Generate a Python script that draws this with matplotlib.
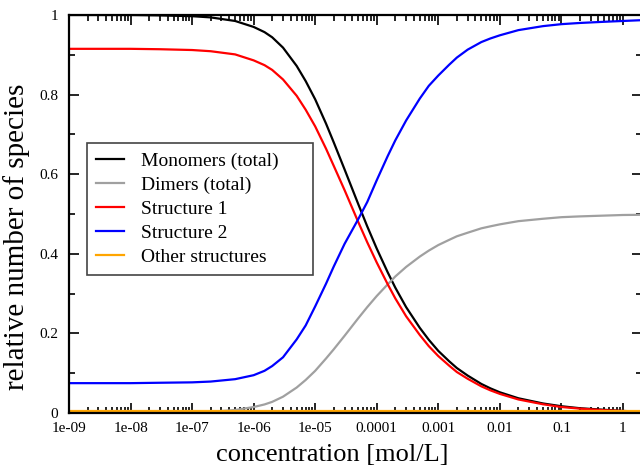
import matplotlib
matplotlib.use('Agg')
import matplotlib.pyplot as plt
from matplotlib.ticker import LogLocator, NullFormatter, MultipleLocator

plt.rcParams['font.family'] = ['Liberation Serif', 'DejaVu Serif']

# concentration in mol/L
conc = [1e-9, 1e-8, 3e-8, 1e-7, 2e-7, 5e-7,
        1e-6, 1.5e-6, 2e-6, 3e-6, 5e-6, 7e-6,
        1e-5, 1.5e-5, 2e-5, 3e-5, 5e-5, 7e-5,
        1e-4, 1.5e-4, 2e-4, 3e-4, 5e-4, 7e-4,
        1e-3, 1.5e-3, 2e-3, 3e-3, 5e-3, 7e-3,
        1e-2, 2e-2, 5e-2, 0.1, 0.2, 0.5, 1, 2]

monomers = [1.0, 1.0, 0.999, 0.997, 0.994, 0.985,
            0.970, 0.957, 0.944, 0.918, 0.872, 0.834,
            0.788, 0.727, 0.680, 0.612, 0.525, 0.469,
            0.413, 0.354, 0.315, 0.266, 0.214, 0.184,
            0.156, 0.130, 0.113, 0.094, 0.073, 0.062,
            0.052, 0.037, 0.024, 0.017, 0.012, 0.008, 0.005, 0.004]
dimers = [0.0, 0.0, 0.0005, 0.0015, 0.003, 0.0075,
          0.015, 0.0215, 0.028, 0.041, 0.064, 0.083,
          0.106, 0.137, 0.160, 0.194, 0.238, 0.266,
          0.294, 0.323, 0.343, 0.367, 0.393, 0.408,
          0.422, 0.435, 0.444, 0.453, 0.464, 0.469,
          0.474, 0.482, 0.488, 0.492, 0.494, 0.496, 0.4975, 0.498]
struct1 = [0.915, 0.915, 0.914, 0.912, 0.909, 0.901,
           0.886, 0.874, 0.862, 0.838, 0.797, 0.762,
           0.720, 0.664, 0.621, 0.560, 0.480, 0.429,
           0.378, 0.324, 0.288, 0.243, 0.196, 0.168,
           0.143, 0.119, 0.103, 0.086, 0.067, 0.057,
           0.048, 0.034, 0.022, 0.015, 0.011, 0.007, 0.005, 0.0035]
struct2 = [0.075, 0.075, 0.076, 0.077, 0.079, 0.085,
           0.095, 0.106, 0.118, 0.140, 0.185, 0.220,
           0.268, 0.325, 0.368, 0.425, 0.487, 0.530,
           0.585, 0.645, 0.685, 0.735, 0.790, 0.822,
           0.848, 0.875, 0.893, 0.913, 0.932, 0.941,
           0.949, 0.962, 0.972, 0.977, 0.980, 0.983, 0.985, 0.987]
other = [0.006, 0.006, 0.006, 0.006, 0.006, 0.006,
         0.006, 0.006, 0.006, 0.006, 0.006, 0.006,
         0.006, 0.006, 0.006, 0.006, 0.006, 0.006,
         0.006, 0.006, 0.006, 0.006, 0.006, 0.006,
         0.006, 0.006, 0.006, 0.006, 0.006, 0.006,
         0.006, 0.006, 0.006, 0.006, 0.006, 0.006, 0.006, 0.006]

xtick_vals = [1e-9, 1e-8, 1e-7, 1e-6, 1e-5, 1e-4, 1e-3, 1e-2, 1e-1, 1]
xtick_labels = ['1e-09', '1e-08', '1e-07', '1e-06', '1e-05', '0.0001', '0.001', '0.01', '0.1', '1']
ytick_vals = [0, 0.2, 0.4, 0.6, 0.8, 1]
ytick_labels = ['0', '0.2', '0.4', '0.6', '0.8', '1']

fig = plt.figure(figsize=(6.4, 4.7), dpi=100)
# right spine sits just outside the picture, like the reference
ax = fig.add_axes([69/640, 57/470, (641.5-69)/640, 398/470])

lw = 1.6
ax.plot(conc, monomers, color='black', lw=lw, label='Monomers (total)')
ax.plot(conc, dimers, color='#a0a0a0', lw=lw, label='Dimers (total)')
ax.plot(conc, struct1, color='#ff0000', lw=lw, label='Structure 1')
ax.plot(conc, struct2, color='#0000ff', lw=lw, label='Structure 2')
ax.plot(conc, other, color='#ffa500', lw=lw, label='Other structures')

ax.set_xscale('log')
ax.set_xlim(1e-9, 2)
ax.set_ylim(0, 1)
ax.set_xticks(xtick_vals)
ax.set_xticklabels(xtick_labels)
ax.xaxis.set_minor_locator(LogLocator(base=10, subs=range(2, 10), numticks=20))
ax.xaxis.set_minor_formatter(NullFormatter())
ax.set_yticks(ytick_vals)
ax.set_yticklabels(ytick_labels)
ax.yaxis.set_minor_locator(MultipleLocator(0.1))

ax.tick_params(which='both', direction='in', top=True, right=True, labelsize=11, width=1.2)
ax.tick_params(axis='x', pad=6.5)
ax.tick_params(axis='y', pad=8)
ax.tick_params(which='major', length=7.5)
ax.tick_params(which='minor', length=4)
for s in ax.spines.values():
    s.set_linewidth(1.6)

ax.set_xlabel('concentration [mol/L]', fontsize=19)
ax.xaxis.set_label_coords(0.46, -0.078)
ax.set_ylabel('relative number of species', fontsize=21)
ax.yaxis.set_label_coords(-0.068, 0.442)

leg = ax.legend(loc='upper left', bbox_to_anchor=(0.0314, 0.0, 0.3948, 0.678), mode='expand',
                borderaxespad=0, fontsize=14, fancybox=False, framealpha=1, edgecolor='#444444',
                handlelength=1.45, handletextpad=0.9, labelspacing=0.33, borderpad=0.45)
leg.get_frame().set_linewidth(1.2)

fig.savefig('out.png', dpi=100)
